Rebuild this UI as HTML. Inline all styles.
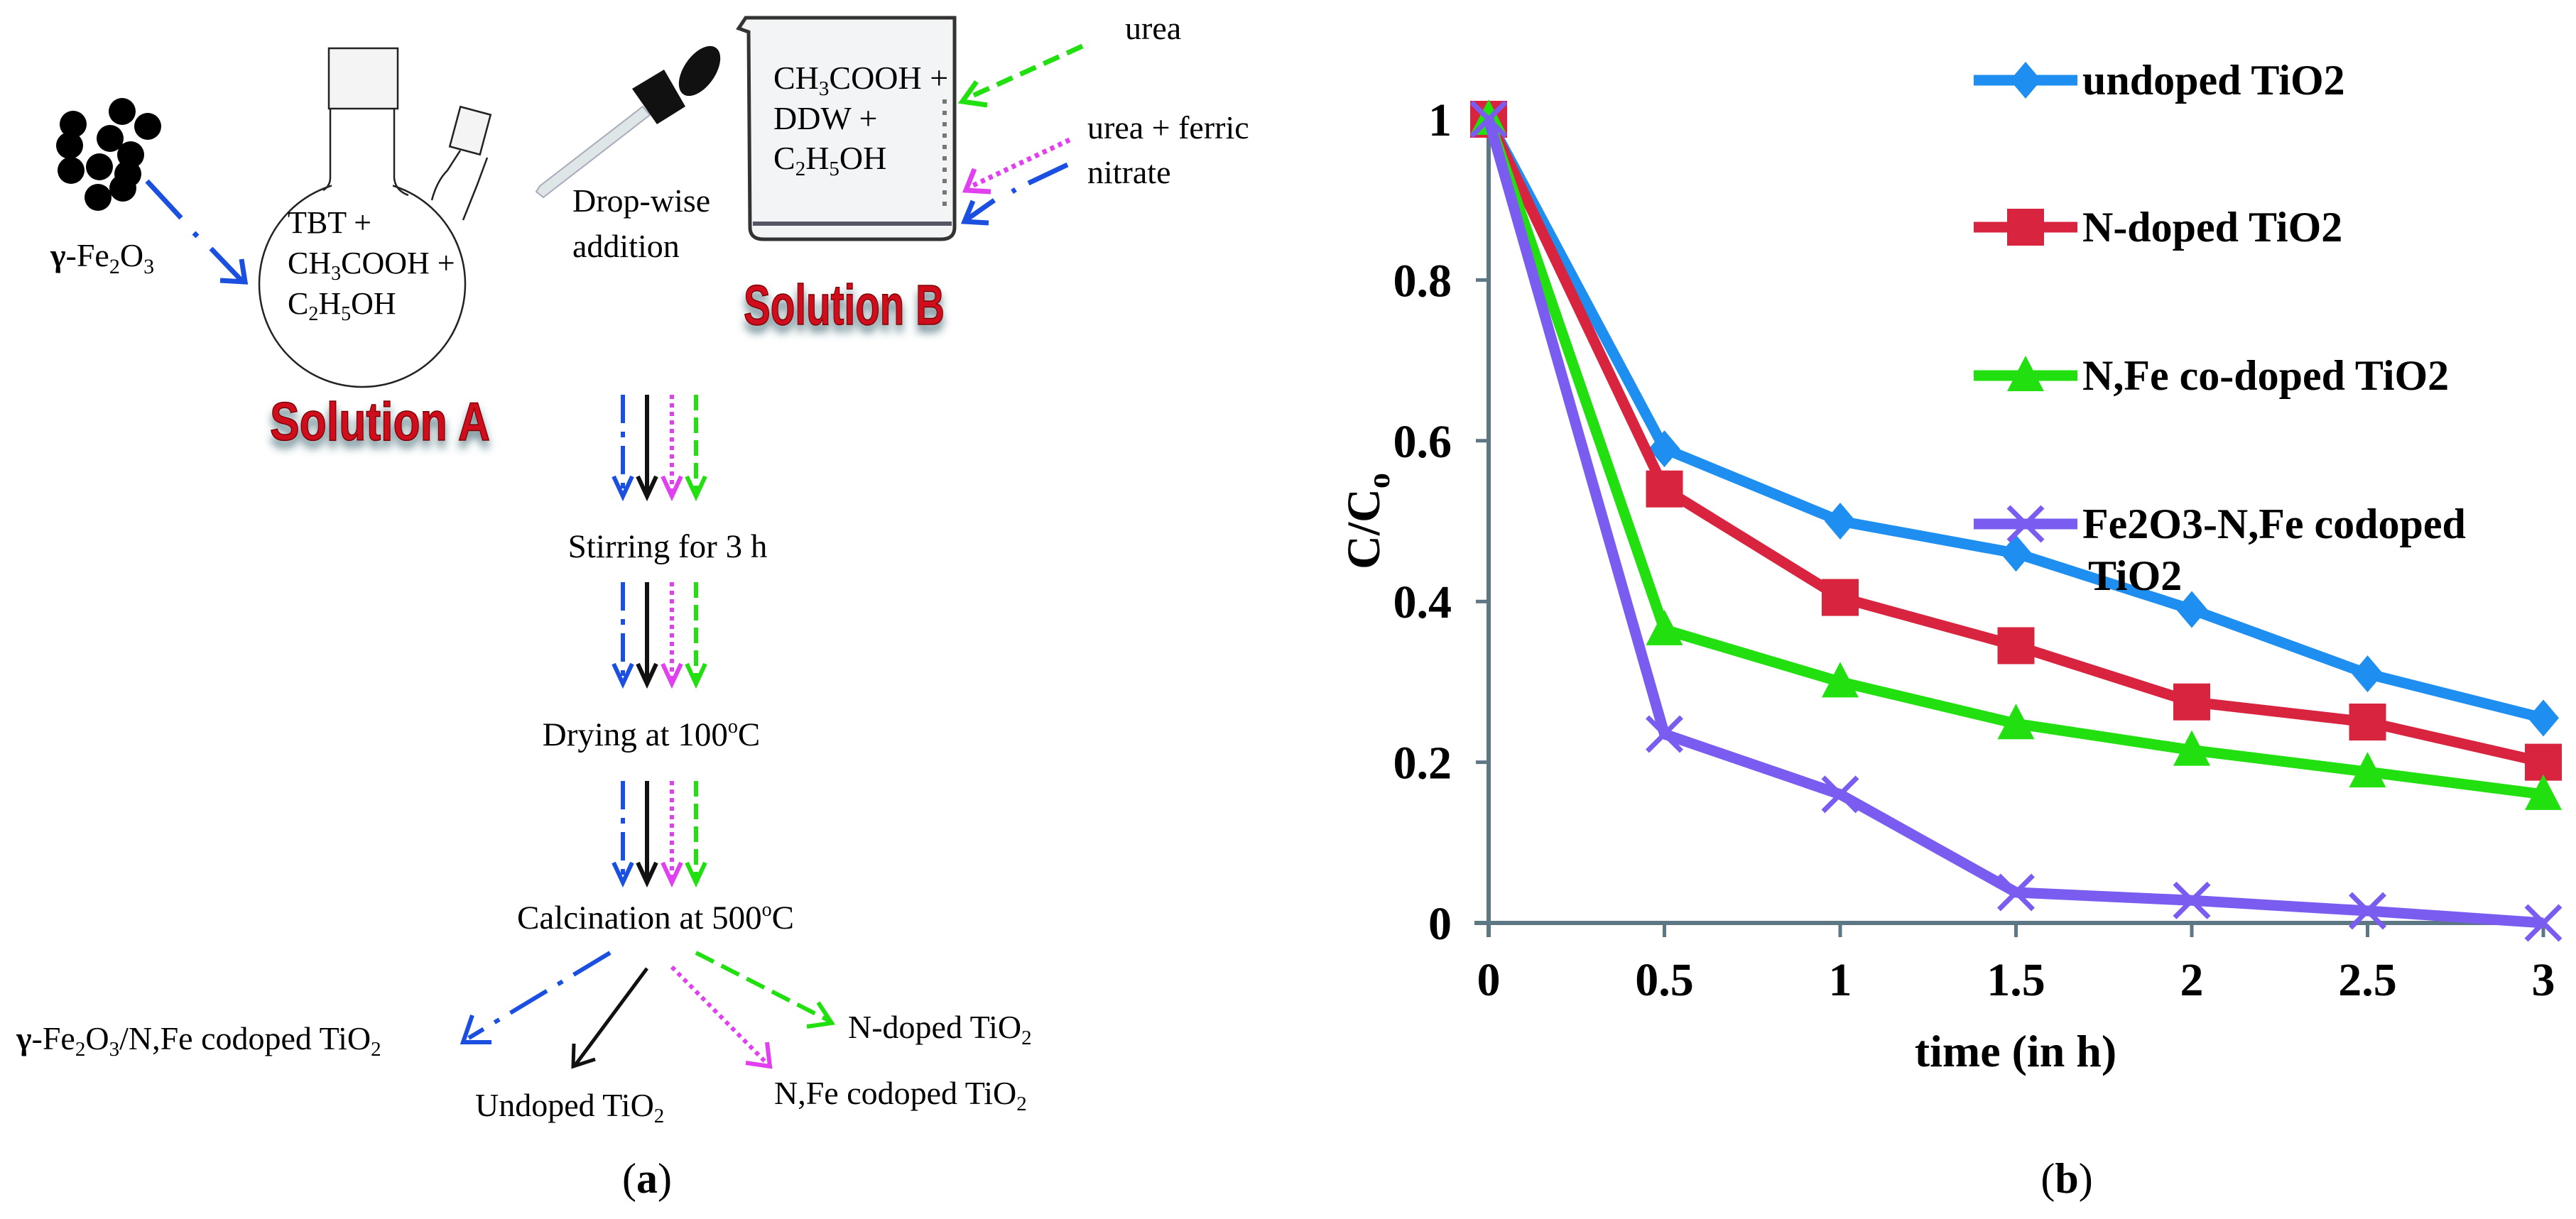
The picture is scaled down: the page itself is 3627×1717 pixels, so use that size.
<!DOCTYPE html>
<html><head><meta charset="utf-8"><style>
html,body{margin:0;padding:0;background:#fff;}
svg{display:block;}
.serif{font-family:"Liberation Serif",serif;}
.sol{font-family:"Liberation Sans Narrow","Liberation Sans",sans-serif;font-weight:bold;fill:#d0101a;stroke:#700;stroke-width:1.5;}
</style></head><body>
<svg id="root" width="3627" height="1717" viewBox="0 0 3627 1717" xmlns="http://www.w3.org/2000/svg">
<defs>
<filter id="sh" x="-10%" y="-20%" width="120%" height="160%"><feDropShadow dx="0" dy="10" stdDeviation="6" flood-color="#2a5560" flood-opacity="0.7"/></filter>
</defs>
<!-- PANEL A -->
<g class="serif">
  <g fill="#000">
    <circle cx="103" cy="175" r="19"/><circle cx="172" cy="157" r="19"/><circle cx="208" cy="178" r="19"/>
    <circle cx="98" cy="205" r="19"/><circle cx="155" cy="195" r="19"/><circle cx="184" cy="218" r="19"/>
    <circle cx="100" cy="240" r="19"/><circle cx="140" cy="235" r="19"/><circle cx="180" cy="245" r="19"/>
    <circle cx="138" cy="278" r="19"/><circle cx="173" cy="265" r="19"/>
  </g>
  <text x="71" y="375" font-size="46"><tspan font-weight="bold">γ</tspan>-Fe<tspan font-size="30" dy="10">2</tspan><tspan dy="-10">O</tspan><tspan font-size="30" dy="10">3</tspan></text>
  <g stroke="#1a4fe0" stroke-width="7" fill="none">
    <path d="M207 255 L255 307" /><path d="M273 328 L278 333"/><path d="M297 350 L340 395"/>
    <path d="M310 395 L345 397 L340 365"/>
  </g>
  <g fill="none" stroke="#222" stroke-width="2.5">
    <circle cx="510" cy="400" r="145"/>
    <path d="M640 318 L600 250 L640 225 L662 290" stroke="none" fill="#fff"/>
    <rect x="467" y="240" width="86" height="32" fill="#fff" stroke="none"/>
    <path d="M465 152 L465 250 Q465 262 455 268"/>
    <path d="M555 152 L555 250 Q556 268 575 275"/>
    <path d="M608 282 Q615 255 630 240 L648 212"/>
    <path d="M652 310 Q660 290 672 260 L686 222"/>
    <rect x="463" y="68" width="97" height="85" fill="#f4f4f4"/>
    <rect x="640" y="155" width="44" height="58" fill="#f4f4f4" transform="rotate(15 662 184)"/>
  </g>
  <text x="405" y="328" font-size="44">TBT +</text>
  <text x="405" y="385" font-size="44">CH<tspan font-size="28" dy="9">3</tspan><tspan dy="-9">COOH +</tspan></text>
  <text x="405" y="442" font-size="44">C<tspan font-size="28" dy="9">2</tspan><tspan dy="-9">H</tspan><tspan font-size="28" dy="9">5</tspan><tspan dy="-9">OH</tspan></text>
  <text x="380" y="620" font-size="76" class="sol" filter="url(#sh)" textLength="310" lengthAdjust="spacingAndGlyphs">Solution A</text>

  <g>
    <path d="M755 270 L760 262 L905 150 L915 162 L765 278 Z" fill="#dfe6e8" stroke="#aab" stroke-width="2"/>
    <path d="M890 125 L935 98 L965 150 L925 175 Z" fill="#111"/>
    <ellipse cx="985" cy="100" rx="22" ry="40" transform="rotate(35 985 100)" fill="#111"/>
  </g>
  <text x="806" y="298" font-size="46">Drop-wise</text>
  <text x="806" y="362" font-size="46">addition</text>
  <g>
    <path d="M1054 45 L1040 40 L1050 25 L1344 25 L1344 320 Q1344 337 1325 337 L1075 337 Q1056 337 1056 320 Z" fill="#f3f4f5" stroke="#333" stroke-width="5"/>
    <path d="M1060 315 L1340 315" stroke="#556" stroke-width="6"/>
    <path d="M1330 140 L1330 300" stroke="#777" stroke-width="6" stroke-dasharray="6 10"/>
  </g>
  <text x="1089" y="125" font-size="46">CH<tspan font-size="29" dy="9">3</tspan><tspan dy="-9">COOH +</tspan></text>
  <text x="1089" y="182" font-size="46">DDW +</text>
  <text x="1089" y="238" font-size="46">C<tspan font-size="29" dy="9">2</tspan><tspan dy="-9">H</tspan><tspan font-size="29" dy="9">5</tspan><tspan dy="-9">OH</tspan></text>
  <text x="1047" y="457" font-size="80" class="sol" filter="url(#sh)" textLength="283" lengthAdjust="spacingAndGlyphs">Solution B</text>
  <text x="1584" y="55" font-size="46">urea</text>
  <text x="1531" y="195" font-size="46">urea + ferric</text>
  <text x="1531" y="258" font-size="46">nitrate</text>
  <g fill="none" stroke="#22e010" stroke-width="7">
    <path d="M1524 65 L1358 140" stroke-dasharray="24 12"/><path d="M1375 115 L1355 143 L1390 148"/>
  </g>
  <g fill="none" stroke="#e040f0" stroke-width="7">
    <path d="M1506 197 L1362 265" stroke-dasharray="6 6"/><path d="M1372 238 L1360 268 L1395 270"/>
  </g>
  <g fill="none" stroke="#1a4fe0" stroke-width="7">
    <path d="M1503 232 L1448 258"/><path d="M1430 267 L1425 270"/><path d="M1400 282 L1360 310"/><path d="M1370 283 L1358 312 L1392 314"/>
  </g>

  <g fill="none" stroke-width="5">
    <g id="arrowgrp"></g>
  </g>
  <text x="940" y="785" font-size="47" text-anchor="middle">Stirring for  3 h</text>
  <text x="917" y="1050" font-size="47" text-anchor="middle">Drying at  100<tspan font-size="28" dy="-18">o</tspan><tspan dy="18">C</tspan></text>
  <text x="923" y="1308" font-size="47" text-anchor="middle">Calcination at 500<tspan font-size="28" dy="-18">o</tspan><tspan dy="18">C</tspan></text>
  <g fill="none" stroke-width="5">
    <path d="M859 1342 L660 1462" stroke="#1a4fe0" stroke-width="6" stroke-dasharray="60 18 8 18"/><path d="M665 1430 L652 1468 L692 1468" stroke="#1a4fe0" stroke-width="6"/>
    <path d="M911 1364 L810 1500" stroke="#111"/><path d="M808 1470 L807 1502 L838 1492" stroke="#111"/>
    <path d="M946 1362 L1080 1498" stroke="#e040f0" stroke-width="6" stroke-dasharray="6 6"/><path d="M1080 1468 L1084 1502 L1050 1497" stroke="#e040f0" stroke-width="6"/>
    <path d="M980 1342 L1168 1438" stroke="#22e010" stroke-width="6" stroke-dasharray="28 12"/><path d="M1152 1412 L1171 1441 L1136 1446" stroke="#22e010" stroke-width="6"/>
  </g>
  <text x="23" y="1478" font-size="46"><tspan font-weight="bold">γ</tspan>-Fe<tspan font-size="29" dy="9">2</tspan><tspan dy="-9">O</tspan><tspan font-size="29" dy="9">3</tspan><tspan dy="-9">/N,Fe codoped TiO</tspan><tspan font-size="29" dy="9">2</tspan></text>
  <text x="669" y="1572" font-size="46">Undoped TiO<tspan font-size="29" dy="9">2</tspan></text>
  <text x="1090" y="1555" font-size="46">N,Fe codoped TiO<tspan font-size="29" dy="9">2</tspan></text>
  <text x="1194" y="1462" font-size="46">N-doped TiO<tspan font-size="29" dy="9">2</tspan></text>
  <text x="911" y="1680" font-size="60" text-anchor="middle">(<tspan font-weight="bold">a</tspan>)</text>
</g>

<!-- PANEL B -->
<g id="chart" class="serif"></g>
<text x="2910" y="1680" font-size="60" text-anchor="middle" class="serif">(<tspan font-weight="bold">b</tspan>)</text>
</svg>
<script>
const times = [0, 0.5, 1, 1.5, 2, 2.5, 3];
const undoped = [1, 0.59, 0.50, 0.46, 0.39, 0.31, 0.255];
const nDoped = [1, 0.54, 0.405, 0.345, 0.275, 0.25, 0.20];
const nFeCodoped = [1, 0.365, 0.30, 0.248, 0.215, 0.188, 0.16];
const fe2o3Codoped = [1, 0.235, 0.16, 0.038, 0.028, 0.015, 0.0];
const xTicks = [0, 0.5, 1, 1.5, 2, 2.5, 3];
const xTickLabels = ["0", "0.5", "1", "1.5", "2", "2.5", "3"];
const yTicks = [0, 0.2, 0.4, 0.6, 0.8, 1];
const yTickLabels = ["0", "0.2", "0.4", "0.6", "0.8", "1"];
const seriesNames = ["undoped TiO2", "N-doped TiO2", "N,Fe co-doped TiO2", "Fe2O3-N,Fe codoped"];

const NS = "http://www.w3.org/2000/svg";
const X0 = 2096, X1 = 3581, Y0 = 1300, Y1 = 168;
function xs(t){ return X0 + (t - 0) / 3 * (X1 - X0); }
function ys(v){ return Y0 - v * (Y0 - Y1); }
function mk(tag, attrs, parent){ const e = document.createElementNS(NS, tag); for (const k in attrs) e.setAttribute(k, attrs[k]); parent.appendChild(e); return e; }
const chart = document.getElementById('chart');
const axisCol = "#5d7784";

let ya = mk('line', {x1:X0, y1:Y1, x2:X0, y2:Y0+20, stroke:axisCol, 'stroke-width':6}, chart);


let xa = mk('line', {x1:X0-20, y1:Y0, x2:X1, y2:Y0, stroke:axisCol, 'stroke-width':6}, chart);



yTicks.forEach((v, i) => {
  const t = mk('line', {x1:X0-18, y1:ys(v), x2:X0, y2:ys(v), stroke:axisCol, 'stroke-width':5}, chart);
  
  
  const l = mk('text', {x:2044, y:ys(v)+23, 'font-size':66, 'font-weight':'bold', 'text-anchor':'end'}, chart);
  l.textContent = yTickLabels[i];
  
  
});
xTicks.forEach((t, i) => {
  const k = mk('line', {x1:xs(t), y1:Y0, x2:xs(t), y2:Y0+20, stroke:axisCol, 'stroke-width':5}, chart);
  
  
  const l = mk('text', {x:xs(t), y:1402, 'font-size':66, 'font-weight':'bold', 'text-anchor':'middle'}, chart);
  l.textContent = xTickLabels[i];
  
  
});
const xt = mk('text', {x:2838, y:1502, 'font-size':64, 'font-weight':'bold', 'text-anchor':'middle'}, chart);
xt.textContent = "time (in h)";


const yt = mk('text', {x:0, y:0, 'font-size':66, 'font-weight':'bold', 'text-anchor':'middle', transform:'translate(1942 734) rotate(-90)'}, chart);
yt.innerHTML = 'C/C<tspan font-size="44" dy="14">o</tspan>';



function marker(kind, cx, cy, col, parent){
  let m;
  if (kind === 'diamond') m = mk('path', {d:`M${cx} ${cy-26} L${cx+22} ${cy} L${cx} ${cy+26} L${cx-22} ${cy} Z`, fill:col}, parent);
  else if (kind === 'square') m = mk('rect', {x:cx-26, y:cy-26, width:52, height:52, fill:col}, parent);
  else if (kind === 'triangle') m = mk('path', {d:`M${cx} ${cy-28} L${cx+26} ${cy+22} L${cx-26} ${cy+22} Z`, fill:col}, parent);
  else m = mk('path', {d:`M${cx-24} ${cy-24} L${cx+24} ${cy+24} M${cx+24} ${cy-24} L${cx-24} ${cy+24}`, stroke:col, 'stroke-width':7, fill:'none'}, parent);
  return m;
}
const series = [
  {vals: undoped, col:'#1e8ff0', kind:'diamond', name:'series-undoped'},
  {vals: nDoped, col:'#d8243f', kind:'square', name:'series-n-doped'},
  {vals: nFeCodoped, col:'#22e010', kind:'triangle', name:'series-n-fe-codoped'},
  {vals: fe2o3Codoped, col:'#7b5cf0', kind:'cross', name:'series-fe2o3-codoped'}
];
series.forEach(s => {
  const g = mk('g', {}, chart);
  
  
  const pts = s.vals.map((v, i) => xs(times[i]) + ',' + ys(v)).join(' ');
  const pl = mk('polyline', {points:pts, fill:'none', stroke:s.col, 'stroke-width':15, 'stroke-linejoin':'round'}, g);
  
  
  s.vals.forEach((v, i) => {
    const m = marker(s.kind, xs(times[i]), ys(v), s.col, g);
    
    
  });
});
const legY = [113, 320, 529, 738];
series.forEach((s, i) => {
  const g = mk('g', {}, chart);
  
  
  mk('line', {x1:2779, y1:legY[i], x2:2925, y2:legY[i], stroke:s.col, 'stroke-width':15}, g);
  marker(s.kind, 2852, legY[i], s.col, g);
  const t = mk('text', {x:2932, y:legY[i]+20, 'font-size':60, 'font-weight':'bold'}, g);
  t.textContent = seriesNames[i];
  if (i === 3) {
    const t2 = mk('text', {x:2940, y:legY[i]+93, 'font-size':60, 'font-weight':'bold'}, g);
    t2.textContent = "TiO2";
  }
});

const grp = document.getElementById('arrowgrp');
const arrowX = [877, 911, 946, 980];
const arrowCols = ['#1a4fe0', '#111', '#e040f0', '#22e010'];
const arrowDash = ['40 12 8 12', 'none', '6 6', '22 10'];
[[556, 699], [820, 963], [1100, 1243]].forEach(([a, b]) => {
  arrowX.forEach((x, i) => {
    const p = mk('path', {d:`M${x} ${a} L${x} ${b-4}`, stroke:arrowCols[i], 'stroke-width':6, 'stroke-dasharray':arrowDash[i]}, grp);
    
    
    const h = mk('path', {d:`M${x-13} ${b-28} L${x} ${b} L${x+13} ${b-28}`, stroke:arrowCols[i], 'stroke-width':6}, grp);
    
    
  });
});
</script>
</body></html>
